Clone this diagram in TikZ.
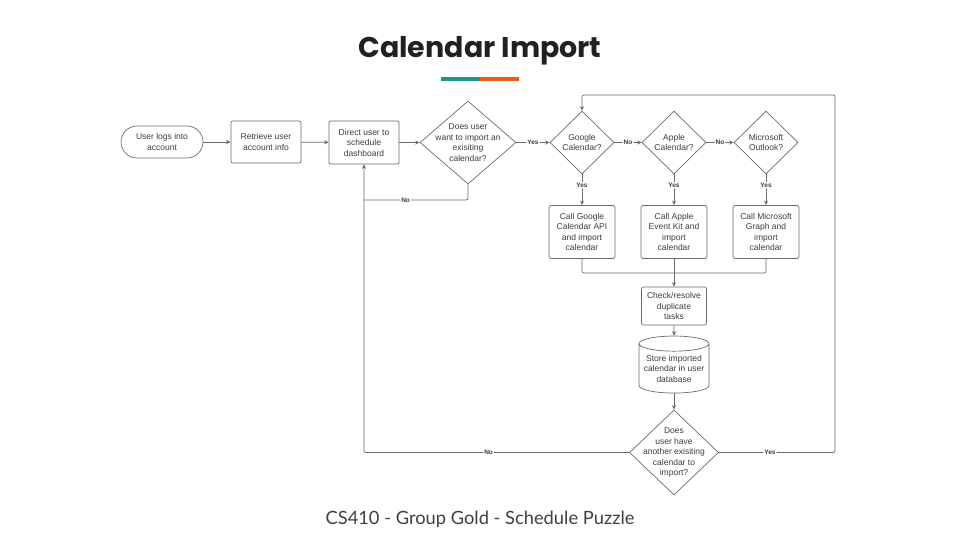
\documentclass[tikz,border=0pt]{standalone}
\usepackage{fontspec}
\setmainfont{Liberation Sans}
\newfontfamily\titlefont{Poppins}
\newfontfamily\footfont{Lato}
\usepackage{tikz}
\usetikzlibrary{positioning}
\usetikzlibrary{shapes.geometric}
\usetikzlibrary{arrows.meta}
\definecolor{linegray}{HTML}{6A6A6A}
\definecolor{textgray}{HTML}{3C3C3C}
\definecolor{barteal}{HTML}{17998A}
\definecolor{barorange}{HTML}{E85D12}
\tikzset{
	box/.style={draw=linegray, line width=0.7pt, rounded corners=2pt, align=center, inner sep=0pt, text=textgray, font=\fontsize{8.5}{10.5}\selectfont},
	terminal/.style={box, rounded corners=16pt, minimum width=82pt, minimum height=32pt},
	decision/.style={draw=linegray, line width=0.7pt, diamond, inner sep=0pt, label={[align=center, text=textgray, font=\fontsize{8.5}{10.5}\selectfont]center:#1}},
	database/.style={draw=linegray, line width=0.7pt, cylinder, shape border rotate=90, aspect=0.25, align=center, inner sep=0pt, text=textgray, font=\fontsize{8.5}{10.5}\selectfont},
	flow/.style={draw=linegray, line width=0.7pt, rounded corners=2pt, -{Stealth[length=4.5pt, width=4pt]}},
	link/.style={draw=linegray, line width=0.7pt, rounded corners=2pt},
	tag/.style={fill=white, inner sep=1pt, text=textgray, font=\fontsize{6.5}{7}\selectfont\bfseries}
}

\begin{document}
\begin{tikzpicture}[x=1pt, y=-1pt]
	\useasboundingbox (0,0) rectangle (960,540);
	\node[font=\titlefont\bfseries\fontsize{28.5}{31}\selectfont, text=black!87] (title) at (480,50.5) {Calendar Import};
	\fill[barteal] (441,77) rectangle (480,81.5);
	\fill[barorange] (480,77) rectangle (519,81.5);

	\node[terminal] (userlogs) at (162,142) {User logs into\\account};
	\node[box, minimum width=70pt, minimum height=42pt] (retrieve) at (266,142) {Retrieve user\\account info};
	\node[box, minimum width=70pt, minimum height=43pt] (direct) at (364,142.5) {Direct user to\\schedule\\dashboard};
	\node[decision={Does user\\want to import an\\exisiting\\calendar?}, minimum width=96pt, minimum height=83pt] (importq) at (468,142.5) {};
	\node[decision={Google\\Calendar?}, minimum width=64pt, minimum height=63pt] (googleq) at (582,142.5) {};
	\node[decision={Apple\\Calendar?}, minimum width=64pt, minimum height=63pt] (appleq) at (674,142.5) {};
	\node[decision={Microsoft\\Outlook?}, minimum width=64pt, minimum height=63pt] (outlookq) at (766,142.5) {};
	\node[box, minimum width=66pt, minimum height=53pt] (googlecall) at (582,232) {Call Google\\Calendar API\\and import\\calendar};
	\node[box, minimum width=66pt, minimum height=53pt] (applecall) at (674,232) {Call Apple\\Event Kit and\\import\\calendar};
	\node[box, minimum width=66pt, minimum height=53pt] (msgraph) at (766,232) {Call Microsoft\\Graph and\\import\\calendar};
	\node[box, minimum width=65pt, minimum height=38pt] (checkdup) at (674,306) {Check/resolve\\duplicate\\tasks};
	\node[database, minimum width=70pt, minimum height=57pt] (store) at (674,368.5) {Store imported\\calendar in user\\database};
	\node[decision={Does\\user have\\another exisiting\\calendar to\\import?}, minimum width=89pt, minimum height=85pt] (anotherq) at (674,452.5) {};
	\node[font=\footfont\fontsize{18.3}{21}\selectfont, text=black!75] (footer) at (480,519) {CS410 - Group Gold - Schedule Puzzle};

	\coordinate (nojoin) at (364,200);
	\coordinate (merge) at (674,273);
	\coordinate (yescorner) at (835,452.5);
	\coordinate (yestop) at (835,95);

	\draw[flow] (userlogs) -- (retrieve);
	\draw[flow] (retrieve) -- (direct);
	\draw[flow] (direct) -- (importq);
	\draw[flow] (importq) -- node[tag] {Yes} (googleq);
	\draw[link] (importq.south) |- node[tag, pos=0.8] {No} (nojoin);
	\draw[flow] (googleq) -- node[tag] {No} (appleq);
	\draw[flow] (appleq) -- node[tag] {No} (outlookq);
	\draw[flow] (googleq) -- node[tag, pos=0.35] {Yes} (googlecall);
	\draw[flow] (appleq) -- node[tag, pos=0.35] {Yes} (applecall);
	\draw[flow] (outlookq) -- node[tag, pos=0.35] {Yes} (msgraph);
	\draw[link] (googlecall.south) |- (merge) -| (msgraph.south);
	\draw[link] (applecall) -- (merge);
	\draw[flow] (merge) -- (checkdup);
	\draw[flow] (checkdup) -- (store);
	\draw[flow] (store) -- (anotherq);
	\draw[flow] (anotherq.west) -- node[tag, pos=0.53] {No} (anotherq.west -| direct.south) -- (direct.south);
	\draw[flow] (anotherq.east) -- node[tag, pos=0.44] {Yes} (yescorner) -- (yestop) -- (yestop -| googleq.north) -- (googleq.north);
\end{tikzpicture}
\end{document}
